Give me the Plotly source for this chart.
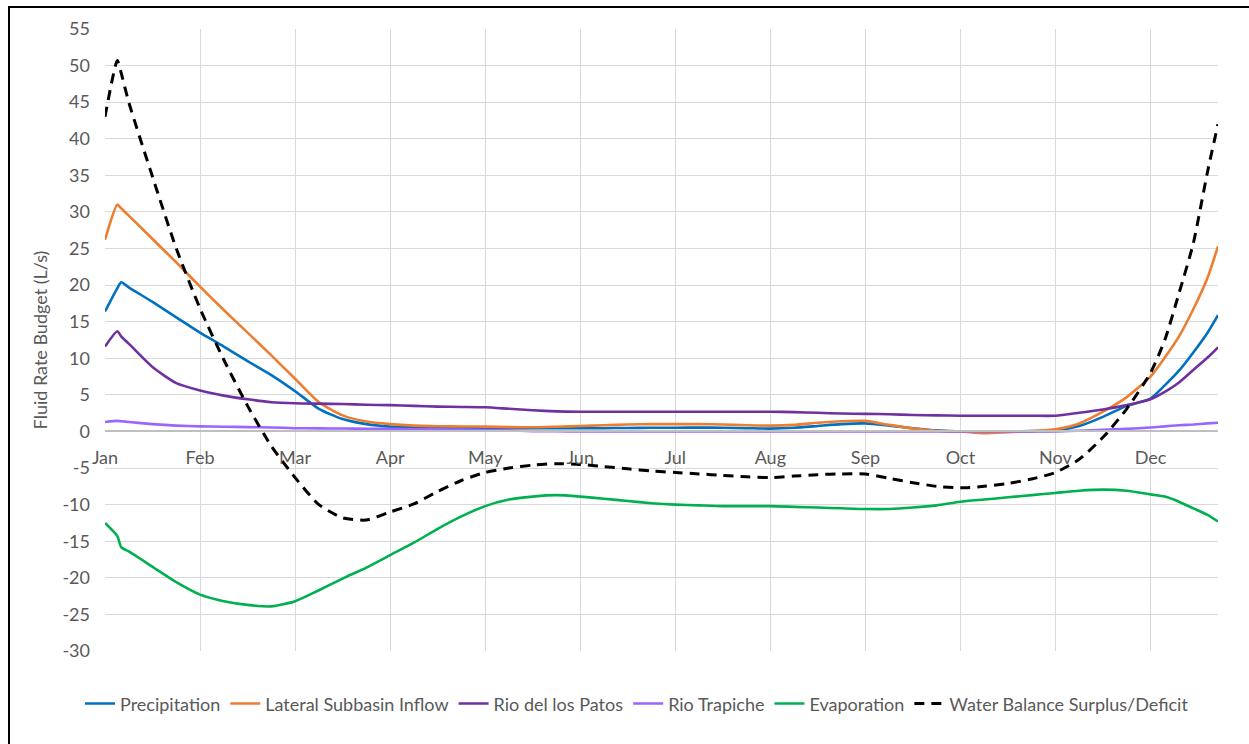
import plotly.graph_objects as go

# x positions in months from 1 Jan (0 = Jan, 11 = Dec)
months = [0, 0.13, 0.17, 0.25, 0.5, 0.75, 1.0, 1.25, 1.5, 1.75, 2.0, 2.25, 2.5, 2.75,
          3.0, 3.25, 3.5, 3.75, 4.0, 4.25, 4.5, 4.75, 5.0, 5.25, 5.5, 5.75, 6.0, 6.25,
          6.5, 6.75, 7.0, 7.25, 7.5, 7.75, 8.0, 8.25, 8.5, 8.75, 9.0, 9.25, 9.5, 9.75,
          10.0, 10.25, 10.5, 10.75, 11.0, 11.15, 11.3, 11.45, 11.6, 11.71]

month_labels = ["Jan", "Feb", "Mar", "Apr", "May", "Jun", "Jul", "Aug", "Sep", "Oct", "Nov", "Dec"]
y_ticks = [55, 50, 45, 40, 35, 30, 25, 20, 15, 10, 5, 0, -5, -10, -15, -20, -25, -30]
y_tick_labels = ["55", "50", "45", "40", "35", "30", "25", "20", "15", "10", "5", "0",
                 "-5", "-10", "-15", "-20", "-25", "-30"]

precipitation = [16.4, 19.6, 20.4, 19.7, 17.7, 15.6, 13.5, 11.6, 9.6, 7.7, 5.5, 3.1, 1.7, 1.0,
                 0.66, 0.55, 0.5, 0.45, 0.43, 0.43, 0.43, 0.43, 0.43, 0.45, 0.48, 0.5, 0.5, 0.55,
                 0.5, 0.45, 0.39, 0.5, 0.75, 1.0, 1.1, 0.8, 0.45, 0.15, 0.0, 0.0, 0.0, 0.05,
                 0.15, 0.75, 2.0, 3.5, 4.5, 6.3, 8.3, 10.8, 13.5, 15.9]

lateral_inflow = [26.2, 31.0, 30.5, 29.5, 26.3, 23.1, 19.8, 16.6, 13.5, 10.4, 7.2, 4.0, 2.2, 1.35,
                  1.0, 0.8, 0.72, 0.68, 0.66, 0.6, 0.57, 0.65, 0.75, 0.85, 0.95, 1.0, 1.0, 1.0,
                  0.95, 0.85, 0.8, 0.9, 1.2, 1.4, 1.45, 0.9, 0.4, 0.1, 0.0, -0.25, -0.1, 0.05,
                  0.3, 1.1, 2.7, 4.7, 7.5, 10.1, 13.0, 16.7, 21.0, 25.3]

rio_patos = [11.6, 13.7, 13.0, 12.0, 8.8, 6.6, 5.6, 4.9, 4.4, 4.0, 3.85, 3.8, 3.75, 3.65,
             3.6, 3.5, 3.4, 3.35, 3.3, 3.1, 2.9, 2.75, 2.7, 2.7, 2.7, 2.7, 2.7, 2.7,
             2.7, 2.7, 2.7, 2.65, 2.55, 2.45, 2.4, 2.35, 2.25, 2.2, 2.15, 2.15, 2.15, 2.15,
             2.15, 2.55, 3.0, 3.6, 4.4, 5.4, 6.7, 8.4, 10.1, 11.5]

rio_trapiche = [1.3, 1.45, 1.4, 1.3, 1.0, 0.8, 0.7, 0.65, 0.6, 0.55, 0.45, 0.42, 0.4, 0.37,
                0.35, 0.3, 0.28, 0.25, 0.2, 0.15, 0.05, 0.02, 0.0, 0.0, 0.0, 0.0, 0.0, 0.0,
                0.0, 0.0, 0.0, 0.0, 0.0, 0.0, 0.0, 0.0, 0.0, 0.0, 0.0, 0.0, 0.0, 0.0,
                0.0, 0.1, 0.22, 0.35, 0.55, 0.7, 0.85, 0.95, 1.1, 1.2]

evaporation = [-12.5, -14.3, -15.8, -16.4, -18.5, -20.6, -22.3, -23.2, -23.7, -23.9, -23.2, -21.7, -20.1, -18.6,
               -16.9, -15.2, -13.3, -11.6, -10.2, -9.3, -8.9, -8.7, -8.9, -9.2, -9.5, -9.8, -10.0, -10.1,
               -10.2, -10.2, -10.2, -10.3, -10.4, -10.5, -10.6, -10.6, -10.4, -10.1, -9.6, -9.3, -9.0, -8.7,
               -8.4, -8.1, -7.95, -8.1, -8.6, -8.9, -9.6, -10.5, -11.4, -12.3]

water_balance = [43.0, 50.7, 49.0, 45.0, 34.8, 25.0, 16.8, 9.8, 3.5, -2.0, -6.3, -10.0, -11.8, -12.1,
                 -11.0, -9.9, -8.2, -6.7, -5.6, -5.0, -4.6, -4.4, -4.5, -4.8, -5.1, -5.4, -5.6, -5.8,
                 -6.0, -6.2, -6.3, -6.1, -5.9, -5.8, -5.8, -6.4, -7.0, -7.5, -7.7, -7.5, -7.1, -6.5,
                 -5.6, -3.8, -0.8, 3.1, 8.0, 12.5, 18.9, 25.7, 35.5, 42.0]

series = [
    ("Precipitation", precipitation, "#0070C0", None),
    ("Lateral Subbasin Inflow", lateral_inflow, "#ED7D31", None),
    ("Rio del los Patos", rio_patos, "#7030A0", None),
    ("Rio Trapiche", rio_trapiche, "#9966FF", None),
    ("Evaporation", evaporation, "#00B050", None),
    ("Water Balance Surplus/Deficit", water_balance, "#000000", "10px,7px"),
]

FONT = "Lato, 'Open Sans', sans-serif"
GRAY = "#595959"

fig = go.Figure()
for name, vals, color, dash in series:
    fig.add_trace(go.Scatter(
        x=months, y=vals, name=name, mode="lines",
        line=dict(color=color, width=3 if dash else 2.6, dash=dash,
                  shape="spline", smoothing=0.6),
    ))

fig.update_layout(
    width=1249, height=744,
    margin=dict(l=105, r=31, t=29, b=93, autoexpand=False),
    paper_bgcolor="white", plot_bgcolor="white",
    font=dict(family=FONT, size=18, color=GRAY),
    showlegend=True,
    legend=dict(orientation="h", xref="container", x=0.51, xanchor="center",
                y=-0.085, yanchor="middle",
                font=dict(family=FONT, size=18, color=GRAY), traceorder="normal",
                itemwidth=30, tracegroupgap=0),
    xaxis=dict(
        range=[0, 11.71], tickmode="array", tickvals=list(range(12)), ticktext=month_labels,
        showgrid=True, gridcolor="#D9D9D9", gridwidth=1.3, ticks="",
        anchor="free", position=30 / 85, showline=True, linecolor="#BFBFBF", linewidth=1.5,
        zeroline=False, ticklabelstandoff=10,
        tickfont=dict(family=FONT, size=18, color=GRAY),
    ),
    yaxis=dict(
        range=[-30, 55], tickmode="array", tickvals=y_ticks, ticktext=y_tick_labels,
        showgrid=True, gridcolor="#D9D9D9", gridwidth=1.3,
        zeroline=False, ticks="", showline=False, ticklabelstandoff=14,
        tickfont=dict(family=FONT, size=18, color=GRAY),
        title=dict(text="Fluid Rate Budget (L/s)", font=dict(family=FONT, size=18, color=GRAY),
                   standoff=10),
    ),
    shapes=[dict(type="rect", xref="paper", yref="paper",
                 x0=(9 - 105) / 1113, x1=1.06, y0=-0.2, y1=(651 - 7) / 622,
                 line=dict(color="black", width=2), layer="above")],
)

fig.write_html("out.html")
